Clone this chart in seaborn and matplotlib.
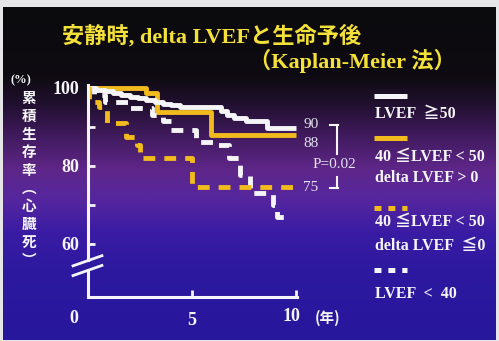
import numpy as np
import pandas as pd
import matplotlib
matplotlib.use("Agg")
import matplotlib.pyplot as plt
import matplotlib.transforms as mtransforms
from matplotlib.lines import Line2D
from matplotlib.colors import to_rgb
import seaborn as sns

# ---------------- data ----------------
groups = ["LVEF<40", "40-50 dLVEF<=0", "40-50 dLVEF>0", "LVEF>=50"]

lvef50_t = [0, 0.4, 0.8, 1.2, 1.6, 2.0, 2.4, 2.8, 3.2, 3.6, 4.0, 4.4, 6.4, 6.7, 7.0, 7.6, 8.6, 10.0]
lvef50_s = [100, 99.6, 99.2, 98.8, 98.3, 97.8, 97.4, 97.0, 96.5, 96.0, 95.6, 95.2, 94.2, 93.2, 92.2, 91.6, 89.7, 89.7]

mid_pos_t = [0, 2.8, 3.3, 5.9, 10.0]
mid_pos_s = [100, 98.8, 93.8, 88.0, 88.0]

mid_neg_t = [0, 0.05, 0.55, 0.9, 1.85, 2.35, 2.5, 5.0, 10.0]
mid_neg_s = [100, 96.5, 95.0, 91.0, 87.5, 85.4, 82.0, 74.6, 74.6]

lvef40_t = [0, 0.3, 0.8, 1.9, 3.1, 3.6, 4.0, 5.2, 6.2, 6.8, 7.3, 7.8, 8.9, 9.1, 9.7]
lvef40_s = [100, 98.2, 96.4, 94.9, 93.0, 91.5, 89.2, 86.2, 85.4, 82.0, 77.7, 73.0, 70.0, 67.0, 67.0]

end_labels = ["90", "88", "75"]
p_text = "P=0.02"
ytick_vals = [60, 70, 80, 90, 100]
ytick_labels = ["60", "", "80", "", "100"]
xtick_vals = [0, 5, 10]
xtick_labels = ["0", "5", "10"]
legend_texts = ["LVEF  ≧50", "40 ≦LVEF < 50", "delta LVEF > 0",
                "40 ≦LVEF < 50", "delta LVEF  ≦0", "LVEF  <  40"]

# ---------------- figure ----------------
W, H = 499, 341
fig = plt.figure(figsize=(W / 100, H / 100), dpi=100, facecolor="#e6e6e8")

def P(px, py):
    return px / W, 1 - py / H

# background gradient
stops_y = [0, 70, 100, 130, 165, 195, 230, 270, 341]
stops_c = ["#0b0a0c", "#0e0b12", "#221030", "#3f1a5c", "#5e2688",
           "#56269e", "#3a1ca4", "#2c199f", "#27179c"]
rgb = np.array([to_rgb(c) for c in stops_c])
yy = np.arange(H)
grad = np.stack([np.interp(yy, stops_y, rgb[:, k]) for k in range(3)], axis=1)
grad = np.repeat(grad[:, None, :], 10, axis=1)
axbg = fig.add_axes([0, 0, 1, 1])
axbg.imshow(grad, extent=[3, 496, 340, 7], aspect="auto", interpolation="bilinear")
axbg.set_xlim(0, W)
axbg.set_ylim(H, 0)
axbg.axis("off")

# main axes: x=0 at px 88, x=10 at px 296; y=100 at py 88, bottom at py 297
ymin = 100 - (297 - 88) / 3.9
ax = fig.add_axes([88 / W, 1 - 297 / H, 208 / W, 209 / H])
ax.patch.set_alpha(0)
ax.set_xlim(0, 10)
ax.set_ylim(ymin, 100)

WHITE = "#f5f5f7"
GOLD = "#f1bb1d"
lw_curve = 3.5

frames = []
for g, t, s in [("LVEF<40", lvef40_t, lvef40_s),
                ("40-50 dLVEF<=0", mid_neg_t, mid_neg_s),
                ("40-50 dLVEF>0", mid_pos_t, mid_pos_s),
                ("LVEF>=50", lvef50_t, lvef50_s)]:
    frames.append(pd.DataFrame({"t": t, "s": s, "group": g}))
df = pd.concat(frames, ignore_index=True)

palette = {"LVEF<40": WHITE, "40-50 dLVEF<=0": GOLD,
           "40-50 dLVEF>0": GOLD, "LVEF>=50": WHITE}
dash_map = {"LVEF<40": (8.5 / lw_curve, 6.5 / lw_curve),
            "40-50 dLVEF<=0": (8.5 / lw_curve, 6.5 / lw_curve),
            "40-50 dLVEF>0": "", "LVEF>=50": ""}
order = ["40-50 dLVEF>0", "LVEF>=50", "LVEF<40", "40-50 dLVEF<=0"]
sns.lineplot(data=df, x="t", y="s", hue="group", style="group",
             hue_order=order, style_order=order,
             palette=palette, dashes=dash_map, estimator=None, sort=False,
             units="group", drawstyle="steps-post", linewidth=lw_curve,
             legend=False, ax=ax, clip_on=False)
for ln in ax.lines:
    ln.set_solid_capstyle("butt")
    ln.set_dash_capstyle("butt")

# axes styling
ax.set_xlabel("")
ax.set_ylabel("")
for side in ["top", "right"]:
    ax.spines[side].set_visible(False)
for side in ["left", "bottom"]:
    ax.spines[side].set_color(WHITE)
    ax.spines[side].set_linewidth(2.2)
ax.spines["left"].set_bounds(55.9, 100.8)
ax.spines["bottom"].set_bounds(0, 10.05)
ax.plot([0, 0], [ymin, 52.8], color=WHITE, lw=2.2, clip_on=False,
        solid_capstyle="projecting")
# axis break marks
for yb in (55.7, 53.2):
    ax.plot([-0.72, 0.67], [yb - 1.3, yb + 1.3], color=WHITE, lw=2.0,
            clip_on=False)

num_font = dict(family=["Liberation Serif", "Noto Sans CJK JP"],
                weight="bold", size=13)
ax.set_yticks(ytick_vals)
ax.set_yticklabels(ytick_labels, **num_font, color=WHITE)
ax.set_xticks(xtick_vals)
ax.set_xticklabels(xtick_labels, **num_font, color=WHITE)
ax.tick_params(axis="y", direction="in", length=5, width=2, color=WHITE, pad=6)
ax.tick_params(axis="x", direction="in", length=5, width=2, color=WHITE, pad=8)
xl = ax.get_xticklabels()
xl[0].set_transform(xl[0].get_transform() +
                    mtransforms.ScaledTranslation(-0.14, -0.02, fig.dpi_scale_trans))
xl[1].set_transform(xl[1].get_transform() +
                    mtransforms.ScaledTranslation(0.0, -0.04, fig.dpi_scale_trans))
xl[2].set_transform(xl[2].get_transform() +
                    mtransforms.ScaledTranslation(-0.05, 0.0, fig.dpi_scale_trans))

serif_cjk = ["Liberation Serif", "Noto Sans CJK JP"]
TITLE = "#f3e13a"
fig.text(*P(62, 36), "安静時, delta LVEFと生命予後", family=serif_cjk,
         weight="bold", size=16, color=TITLE, ha="left", va="center")
fig.text(*P(456, 61), "（Kaplan-Meier 法）", family=serif_cjk,
         weight="bold", size=16, color=TITLE, ha="right", va="center")

# y label
fig.text(*P(21, 80), "(%)", family=serif_cjk, weight="bold", size=9,
         color=WHITE, ha="center", va="center")
vert = "累積生存率︵心臓死︶"
fig.text(*P(29, 90), "\n".join(vert), family=["Noto Sans CJK JP"],
         weight="bold", size=10.5, color=WHITE, ha="center", va="top",
         linespacing=1.15)
# x unit
fig.text(*P(328, 318), "(年)", family=["Noto Sans CJK JP"], weight="bold",
         size=10.5, color=WHITE, ha="center", va="center")

# end values, bracket, p-value
ann_font = dict(family=["Liberation Serif", "DejaVu Serif"], size=11,
                color="#e4e2ee")
for lab, py in zip(end_labels, [125, 143, 188]):
    fig.text(*P(303, py), lab, ha="left", va="center", **ann_font)
fig.text(*P(334, 165), p_text, ha="center", va="center", **ann_font)
for (x0, y0, x1, y1) in [(330, 125, 337.5, 125), (337, 125, 337, 154),
                         (337, 177, 337, 188), (330, 188, 337.5, 188)]:
    a0, b0 = P(x0, y0)
    a1, b1 = P(x1, y1)
    fig.add_artist(Line2D([a0, a1], [b0, b1], transform=fig.transFigure,
                          color=WHITE, lw=1.5))

# legend (manual)
leg_lines = [(95.5, WHITE, None), (137.5, GOLD, None),
             (207.5, GOLD, (5.0, 5.0)), (270, WHITE, (5.0, 5.0))]
for py, c, d in leg_lines:
    a0, b0 = P(374, py)
    a1, b1 = P(407, py)
    ln = Line2D([a0, a1], [b0, b1], transform=fig.transFigure, color=c,
                lw=3.6, solid_capstyle="butt", dash_capstyle="butt")
    if d is not None:
        ln.set_dashes([d[0] / 3.6, d[1] / 3.6])
    fig.add_artist(ln)
leg_font = dict(family=serif_cjk, weight="bold", size=11.5, color=WHITE)
for txt, py in zip(legend_texts, [114, 157.5, 178, 222, 246, 294]):
    fig.text(*P(375, py), txt, ha="left", va="center", **leg_font)

fig.savefig("out.png", dpi=100)
